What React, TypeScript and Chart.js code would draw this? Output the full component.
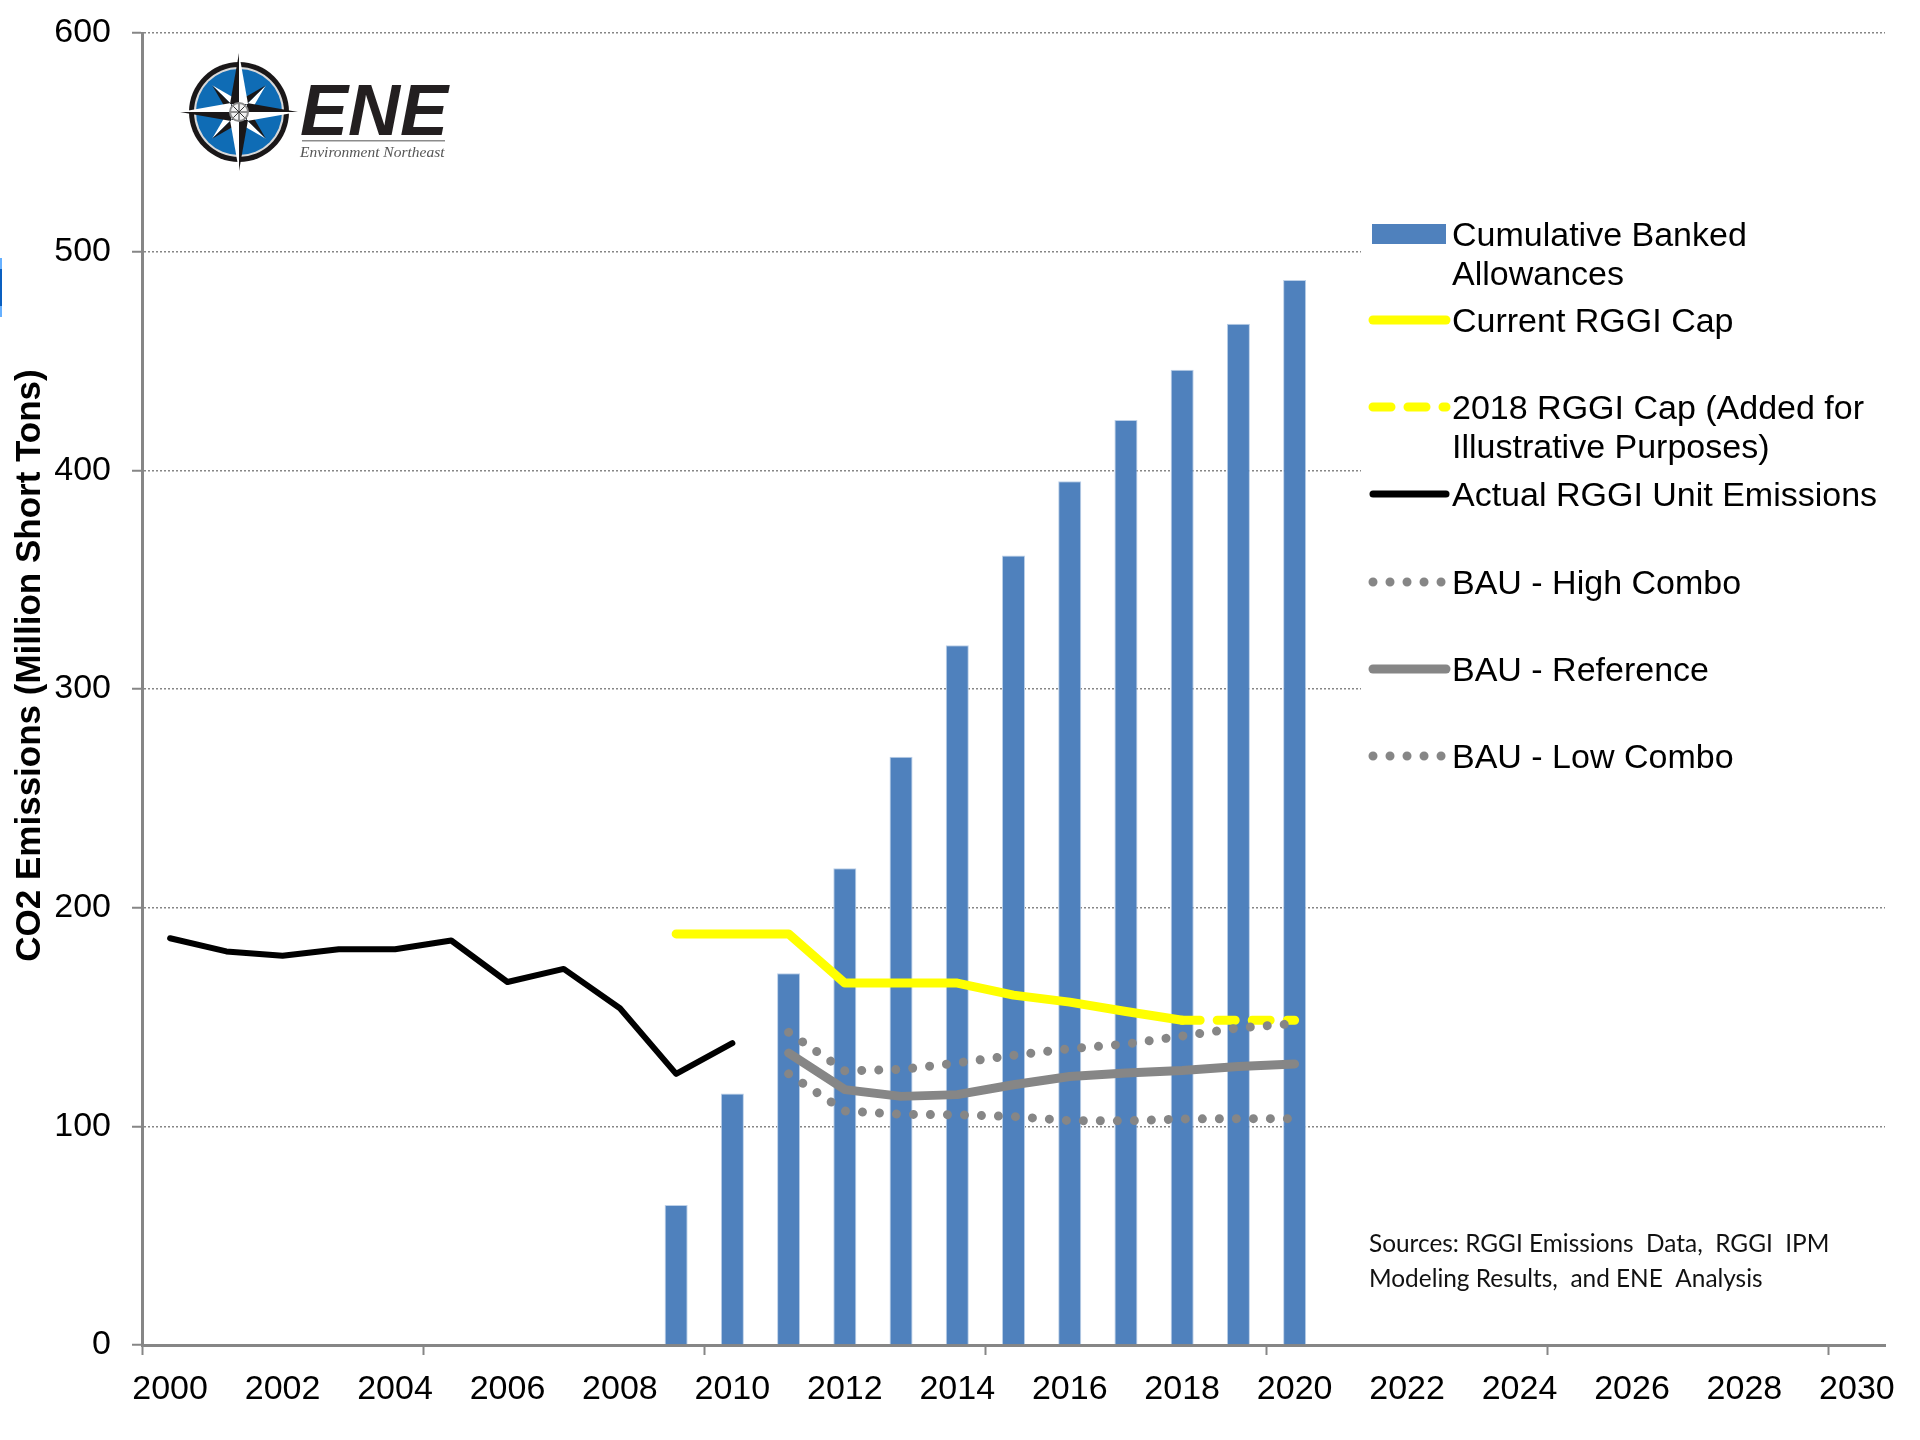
import React, { useEffect, useRef } from "react";
import { Chart, registerables } from "chart.js";

Chart.register(...registerables);

const years = ["2000","2001","2002","2003","2004","2005","2006","2007","2008","2009","2010","2011","2012","2013","2014","2015","2016","2017","2018","2019","2020","2021","2022","2023","2024","2025","2026","2027","2028","2029","2030"];
const n = null;
const bankedAllowances = [n,n,n,n,n,n,n,n,n,64,115,170,218,269,320,361,395,423,446,467,487,n,n,n,n,n,n,n,n,n,n];
const currentCap = [n,n,n,n,n,n,n,n,n,188,188,188,165.5,165.5,165.5,160,156.8,152.5,148.5,n,n,n,n,n,n,n,n,n,n,n,n];
const cap2018 = [n,n,n,n,n,n,n,n,n,n,n,n,n,n,n,n,n,n,148.5,148.5,148.5,n,n,n,n,n,n,n,n,n,n];
const actualEmissions = [186,180,178,181,181,185,166,172,154,124,138,n,n,n,n,n,n,n,n,n,n,n,n,n,n,n,n,n,n,n,n];
const bauHigh = [n,n,n,n,n,n,n,n,n,n,n,143,125.4,126,129,132.5,135.5,137.6,141.3,145,147,n,n,n,n,n,n,n,n,n,n];
const bauReference = [n,n,n,n,n,n,n,n,n,n,n,133.5,116.8,113.7,114.5,119,122.8,124.4,125.5,127.4,128.5,n,n,n,n,n,n,n,n,n,n];
const bauLow = [n,n,n,n,n,n,n,n,n,n,n,124,107,105.5,105.3,104.5,102.6,102.5,103.4,103.5,103.5,n,n,n,n,n,n,n,n,n,n];

const yTitle = "CO2 Emissions (Million Short Tons)";
const sourceLines = ["Sources: RGGI Emissions  Data,  RGGI  IPM", "Modeling Results,  and ENE  Analysis"];
const FONT = '"Liberation Sans", Arial, sans-serif';
const AXIS = "#868686";
const BLUE = "#4f81bd";
const YELLOW = "#ffff00";

const legendRows = [
  { kind: "bar", color: BLUE, width: 0, dash: [], y: 234, lines: ["Cumulative Banked", "Allowances"] },
  { kind: "line", color: YELLOW, width: 9, dash: [], y: 320, lines: ["Current RGGI Cap"] },
  { kind: "line", color: YELLOW, width: 9, dash: [18, 17], y: 407, lines: ["2018 RGGI Cap (Added for", "Illustrative Purposes)"] },
  { kind: "line", color: "#000000", width: 7, dash: [], y: 494, lines: ["Actual RGGI Unit Emissions"] },
  { kind: "line", color: AXIS, width: 9, dash: [0.01, 17], y: 582, lines: ["BAU - High Combo"] },
  { kind: "line", color: AXIS, width: 9, dash: [], y: 669, lines: ["BAU - Reference"] },
  { kind: "line", color: AXIS, width: 9, dash: [0.01, 17], y: 756, lines: ["BAU - Low Combo"] },
];

function drawLogo(ctx: CanvasRenderingContext2D) {
  const cx = 239, cy = 112;
  ctx.save();
  ctx.beginPath(); ctx.arc(cx, cy, 50, 0, Math.PI * 2); ctx.fillStyle = "#1a1718"; ctx.fill();
  ctx.beginPath(); ctx.arc(cx, cy, 45, 0, Math.PI * 2); ctx.fillStyle = "#d9d9d9"; ctx.fill();
  ctx.beginPath(); ctx.arc(cx, cy, 43, 0, Math.PI * 2); ctx.fillStyle = "#0f6cb5"; ctx.fill();
  const point = (angle: number, len: number, half: number) => {
    const tx = cx + Math.cos(angle) * len, ty = cy + Math.sin(angle) * len;
    const px = Math.cos(angle + Math.PI / 2) * half, py = Math.sin(angle + Math.PI / 2) * half;
    const mx = cx + Math.cos(angle) * 8, my = cy + Math.sin(angle) * 8;
    ctx.beginPath(); ctx.moveTo(tx, ty); ctx.lineTo(mx + px, my + py); ctx.lineTo(mx, my); ctx.closePath();
    ctx.fillStyle = "#ffffff"; ctx.fill();
    ctx.beginPath(); ctx.moveTo(tx, ty); ctx.lineTo(mx - px, my - py); ctx.lineTo(mx, my); ctx.closePath();
    ctx.fillStyle = "#1a1718"; ctx.fill();
  };
  for (let i = 0; i < 4; i++) point(Math.PI / 4 + (i * Math.PI) / 2, 38, 8);
  for (let i = 0; i < 4; i++) point((i * Math.PI) / 2, 59, 9);
  ctx.beginPath(); ctx.arc(cx, cy, 10, 0, Math.PI * 2); ctx.fillStyle = "#8a8a8a"; ctx.fill();
  ctx.beginPath(); ctx.arc(cx, cy, 8, 0, Math.PI * 2); ctx.fillStyle = "#f2f2f2"; ctx.fill();
  ctx.strokeStyle = "#333"; ctx.lineWidth = 1;
  for (let i = 0; i < 8; i++) {
    const a = (i * Math.PI) / 4;
    ctx.beginPath(); ctx.moveTo(cx, cy); ctx.lineTo(cx + Math.cos(a) * 8, cy + Math.sin(a) * 8); ctx.stroke();
  }
  ctx.fillStyle = "#231f20";
  ctx.textAlign = "left"; ctx.textBaseline = "alphabetic";
  ctx.font = `italic bold 72px ${FONT}`;
  ctx.fillText("ENE", 300, 135);
  ctx.fillStyle = "#8c8c8c"; ctx.fillRect(302, 140, 143, 1.5);
  ctx.fillStyle = "#555555";
  ctx.font = 'italic 15.5px "Liberation Serif", serif';
  ctx.fillText("Environment Northeast", 300, 157);
  ctx.restore();
}

const decorations = {
  id: "decorations",
  beforeDatasetsDraw(chart: Chart) {
    const ctx = chart.ctx;
    ctx.save();
    ctx.fillStyle = "#ffffff";
    ctx.fillRect(1361, 200, 524, 590);
    ctx.restore();
  },
  afterDraw(chart: Chart) {
    const ctx = chart.ctx;
    ctx.save();
    // stray mark on the page's left edge
    ctx.fillStyle = "#66b0ff"; ctx.fillRect(0, 258, 2, 59);
    ctx.fillStyle = "#0a5fc0"; ctx.fillRect(0, 269, 2, 37);
    // y axis title
    ctx.save();
    ctx.translate(30, 665.5);
    ctx.rotate(-Math.PI / 2);
    ctx.font = `bold 35px ${FONT}`;
    ctx.fillStyle = "#000";
    ctx.textAlign = "center"; ctx.textBaseline = "middle";
    ctx.fillText(yTitle, 0, 0);
    ctx.restore();
    // legend
    ctx.font = `34px ${FONT}`;
    ctx.textBaseline = "middle"; ctx.textAlign = "left";
    for (const row of legendRows) {
      ctx.fillStyle = "#000";
      row.lines.forEach((t, i) => ctx.fillText(t, 1452, row.y + 2.5 + i * 39));
      if (row.kind === "bar") {
        ctx.fillStyle = row.color;
        ctx.fillRect(1372, row.y - 10, 74, 20);
      } else {
        ctx.beginPath();
        ctx.strokeStyle = row.color; ctx.lineWidth = row.width; ctx.lineCap = "round";
        ctx.setLineDash(row.dash);
        ctx.moveTo(1373, row.y); ctx.lineTo(1446, row.y); ctx.stroke();
        ctx.setLineDash([]);
      }
    }
    // sources
    ctx.font = '24.4px Lato, sans-serif';
    ctx.fillStyle = "#111";
    sourceLines.forEach((t, i) => ctx.fillText(t, 1369, 1244 + i * 35));
    ctx.restore();
    drawLogo(ctx);
  },
};

export default function App() {
  const ref = useRef<HTMLCanvasElement>(null);
  useEffect(() => {
    const line = (label: string, data: any[], color: string, width: number, dash: number[], order: number) => ({
      type: "line" as const, label, data, borderColor: color, backgroundColor: color,
      borderWidth: width, borderDash: dash, borderCapStyle: "round" as const, borderJoinStyle: "round" as const,
      pointRadius: 0, tension: 0, spanGaps: false, order,
    });
    const chart = new Chart(ref.current!, {
      type: "bar",
      data: {
        labels: years,
        datasets: [
          { type: "bar", label: "Cumulative Banked Allowances", data: bankedAllowances, backgroundColor: BLUE, borderColor: "#bcd0e8", borderWidth: 1, barPercentage: 0.41, categoryPercentage: 1, order: 10 },
          line("BAU - Low Combo", bauLow, AXIS, 9, [0.01, 17], 6),
          line("BAU - High Combo", bauHigh, AXIS, 9, [0.01, 17], 5),
          line("Current RGGI Cap", currentCap, YELLOW, 9, [], 9),
          line("2018 RGGI Cap (Added for Illustrative Purposes)", cap2018, YELLOW, 9, [18, 17], 8),
          line("BAU - Reference", bauReference, AXIS, 9, [], 4),
          line("Actual RGGI Unit Emissions", actualEmissions, "#000000", 6, [], 3),
        ] as any,
      },
      plugins: [decorations],
      options: {
        responsive: false,
        animation: false,
        layout: { autoPadding: false, padding: { top: 33, right: 35, left: 0, bottom: 0 } },
        plugins: { legend: { display: false }, title: { display: false }, tooltip: { enabled: false } },
        scales: {
          x: {
            type: "category",
            offset: true,
            afterFit: (s: any) => { s.height = 95; },
            border: { color: AXIS, width: 3 },
            grid: {
              offset: true, drawOnChartArea: false, drawTicks: true, tickLength: 10, tickWidth: 2,
              tickColor: (c: any) => (c.index % 5 === 0 ? AXIS : "rgba(0,0,0,0)"),
            },
            ticks: {
              autoSkip: false, maxRotation: 0, minRotation: 0, padding: 14, color: "#000",
              font: { family: FONT, size: 34 },
              callback: (_v: any, i: number) => (i % 2 === 0 ? years[i] : ""),
            },
          },
          y: {
            min: 0, max: 600,
            afterFit: (s: any) => { s.width = 142; },
            border: { color: AXIS, width: 3, dash: [2, 2] },
            grid: { color: AXIS, lineWidth: 1.5, tickColor: AXIS, tickLength: 10, tickWidth: 2, tickBorderDash: [] },
            ticks: { stepSize: 100, padding: 21, color: "#000", font: { family: FONT, size: 34, lineHeight: 0.6 } },
          },
        },
      } as any,
    });
    return () => chart.destroy();
  }, []);
  return (
    <div style={{ position: "fixed", left: 0, top: 0, width: 1920, height: 1440, background: "#fff" }}>
      <canvas ref={ref} width={1920} height={1440} style={{ display: "block" }} />
    </div>
  );
}
